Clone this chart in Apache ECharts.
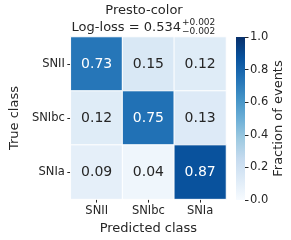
<!DOCTYPE html>
<html><head><meta charset="utf-8">
<script src="https://cdn.jsdelivr.net/npm/echarts@6/dist/echarts.min.js"></script>
<style>html,body{margin:0;padding:0;background:#fff}#c{width:291px;height:240px}</style>
</head><body><div id="c"></div>
<script>
const trueClasses = ['SNII', 'SNIbc', 'SNIa'];
const predClasses = ['SNII', 'SNIbc', 'SNIa'];
// rows = true class, columns = predicted class
const rowSNII = [0.73, 0.15, 0.12];
const rowSNIbc = [0.12, 0.75, 0.13];
const rowSNIa = [0.09, 0.04, 0.87];
const cbarTicks = [0.0, 0.2, 0.4, 0.6, 0.8, 1.0];
const blues = ['#f7fbff','#deebf7','#c6dbef','#9ecae1','#6baed6','#4292c6','#2171b5','#08519c','#08306b'];

const rows = [rowSNII, rowSNIbc, rowSNIa];
const data = [];
rows.forEach((r, i) => r.forEach((v, j) => data.push([j, i, v])));

const font = 'DejaVu Sans';
const dark = '#262626';
const chart = echarts.init(document.getElementById('c'), null, {renderer: 'canvas'});
const stops = blues.map((c, k) => ({offset: 1 - k / (blues.length - 1), color: c}));

chart.setOption({
  animation: false,
  textStyle: {fontFamily: font},
  graphic: [
    {type: 'text', x: 144, y: 11, style: {text: 'Presto-color', font: '13px "DejaVu Sans"', fill: dark, align: 'center', verticalAlign: 'middle'}},
    {type: 'text', x: 181, y: 28, style: {text: 'Log-loss = 0.534', font: '13px "DejaVu Sans"', fill: dark, align: 'right', verticalAlign: 'middle'}},
    {type: 'text', x: 182, y: 23, style: {text: '+0.002', font: '9px "DejaVu Sans"', fill: dark, align: 'left', verticalAlign: 'middle'}},
    {type: 'text', x: 182, y: 32, style: {text: '\u22120.002', font: '9px "DejaVu Sans"', fill: dark, align: 'left', verticalAlign: 'middle'}}
  ],
  grid: [
    {left: 62, top: 37, width: 164, height: 163},
    {left: 236, top: 37, width: 9, height: 163}
  ],
  xAxis: [
    {type: 'category', gridIndex: 0, data: predClasses, name: 'Predicted class', nameLocation: 'middle', nameGap: 20,
     nameTextStyle: {fontSize: 13, color: dark, fontFamily: font},
     axisLine: {show: false}, axisTick: {show: true, alignWithLabel: true, length: 3.5, lineStyle: {color: dark, width: 1}},
     axisLabel: {fontSize: 11.5, color: dark, margin: 6, fontFamily: font}, splitLine: {show: false}},
    {type: 'category', gridIndex: 1, data: [''], show: false}
  ],
  yAxis: [
    {type: 'category', gridIndex: 0, data: trueClasses, inverse: true, name: 'True class', nameLocation: 'middle', nameGap: 44,
     nameTextStyle: {fontSize: 13, color: dark, fontFamily: font},
     axisLine: {show: false}, axisTick: {show: true, alignWithLabel: true, length: 3.5, lineStyle: {color: dark, width: 1}},
     axisLabel: {fontSize: 11.5, color: dark, margin: 6, fontFamily: font}, splitLine: {show: false}},
    {type: 'value', gridIndex: 1, position: 'right', min: 0, max: 1, interval: 0.2,
     name: 'Fraction of events', nameLocation: 'middle', nameGap: 27, nameRotate: 90,
     nameTextStyle: {fontSize: 13, color: dark, fontFamily: font},
     axisLine: {show: false}, axisTick: {show: true, length: 3.5, lineStyle: {color: dark, width: 1}},
     axisLabel: {fontSize: 11.5, color: dark, margin: 5, fontFamily: font, formatter: v => v.toFixed(1)},
     splitLine: {show: false}}
  ],
  visualMap: {show: false, type: 'continuous', min: 0, max: 1, seriesIndex: 0, inRange: {color: blues}},
  series: [
    {type: 'heatmap', xAxisIndex: 0, yAxisIndex: 0, data: data,
     itemStyle: {borderColor: '#ffffff', borderWidth: 1},
     label: {show: true, fontSize: 14, fontFamily: font,
       formatter: p => p.value[2].toFixed(2),
       rich: {}},
     labelLayout: null},
    {type: 'bar', xAxisIndex: 1, yAxisIndex: 1, data: [1], barWidth: '100%',
     itemStyle: {color: new echarts.graphic.LinearGradient(0, 0, 0, 1, stops)}, silent: true}
  ]
});
// label colours: white on dark cells, dark on light cells
chart.setOption({series: [{data: data.map(d => ({value: d, label: {color: d[2] > 0.5 ? '#ffffff' : dark}}))}]});
</script></body></html>
